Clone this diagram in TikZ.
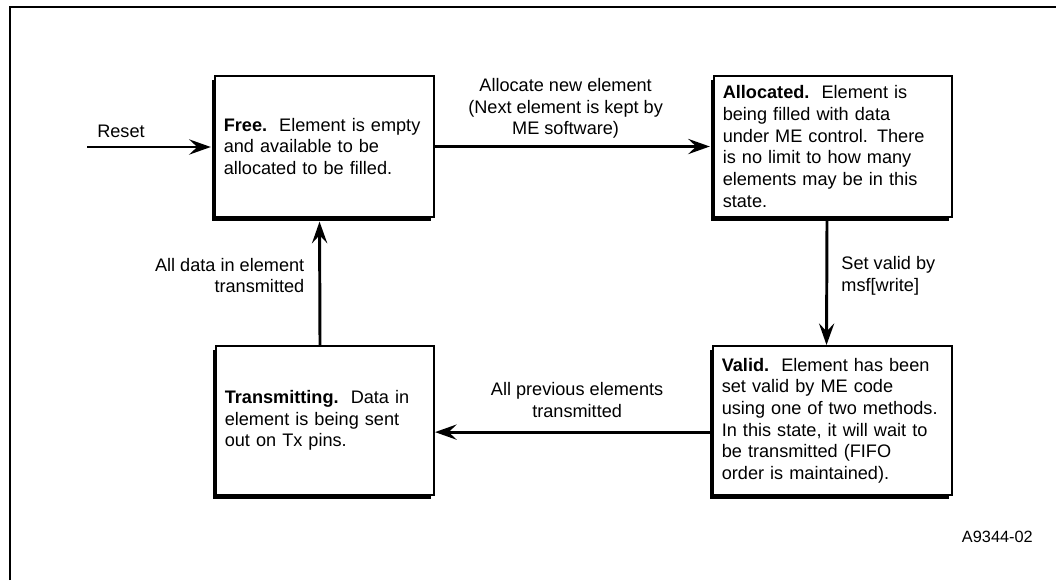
\documentclass[tikz,border=0pt]{standalone}
\usepackage{fontspec}
\setmainfont{Liberation Sans}
\usetikzlibrary{arrows.meta,positioning,shadows}
\newcommand{\statefont}{\fontsize{12.9pt}{15.4pt}\selectfont}
\newcommand{\idfont}{\fontsize{11.6pt}{14pt}\selectfont}
\tikzset{
  state/.style     ={draw=black,line width=1.4pt,fill=white,anchor=north west,
                     align=left,inner xsep=0.22cm,inner ysep=0pt,font=\statefont,
                     drop shadow={shadow xshift=-0.08cm,shadow yshift=-0.09cm,
                                  fill=black,opacity=1}},
  flow/.style      ={-{Stealth[length=5.4mm,width=3.8mm,inset=2mm]},line width=2.1pt},
  lbl/.style       ={font=\statefont,inner sep=0pt},
  frameline/.style ={line width=1.4pt},
}

\begin{document}
\begin{tikzpicture}[x=0.025cm,y=-0.025cm]
\useasboundingbox (0,0) rectangle (1056,580);
\draw[frameline] (10,580) -- (10,7) -- (1056,7);

%% the four element states
\node[state,minimum width=5.475cm,minimum height=3.525cm,text width=5.035cm] (free) at (214,75)
{\textbf{Free.}\ \ Element is empty\\and available to be\\allocated to be filled.};
\node[state,minimum width=5.95cm,minimum height=3.525cm,text width=5.51cm] (alloc) at (713,75)
{\textbf{Allocated.}\ \ Element is\\being filled with data\\under ME control. There\\is no limit to how many\\elements may be in this\\state.};
\node[state,minimum width=5.975cm,minimum height=3.725cm,text width=5.535cm] (valid) at (712,345)
{\textbf{Valid.}\ \ Element has been\\set valid by ME code\\using one of two methods.\\In this state, it will wait to\\be transmitted (FIFO\\order is maintained).};
\node[state,minimum width=5.45cm,minimum height=3.725cm,text width=5.01cm] (trans) at (215,345)
{\textbf{Transmitting.}\ \ Data in\\element is being sent\\out on Tx pins.};

%% transitions
\coordinate (rst) at (87,147);
\draw[flow,shorten >=0.08cm] (rst) -- (rst -| free.west)
  node[lbl,pos=0,anchor=south west,xshift=0.22cm,yshift=0.2cm] (rstlbl) {Reset};
\draw[flow,shorten >=0.08cm] (free.east) -- (alloc.west)
  node[lbl,midway,above=0.16cm,xshift=-0.21cm,align=center] (alloclbl)
  {Allocate new element\\(Next element is kept by\\ME software)};
\draw[flow] ([xshift=-0.15cm]alloc.south) -- ([xshift=-0.15cm]valid.north)
  node[lbl,midway,anchor=west,xshift=0.33cm,yshift=0.15cm,align=left] (validlbl)
  {Set valid by\\msf[write]};
\draw[flow] ([yshift=-0.29cm]valid.west) -- ([yshift=-0.29cm]trans.east)
  node[lbl,midway,above=0.325cm,xshift=0.09cm,align=center] (translbl)
  {All previous elements\\transmitted};
\draw[flow,shorten >=0.09cm] ([xshift=-0.125cm]trans.north) -- ([xshift=-0.125cm]free.south)
  node[lbl,midway,anchor=east,xshift=-0.35cm,yshift=0.15cm,align=right] (donelbl)
  {All data in element\\transmitted};

\node[lbl,font=\idfont,anchor=base east] (figid) at (1033,542) {A9344-02};
\end{tikzpicture}
\end{document}
